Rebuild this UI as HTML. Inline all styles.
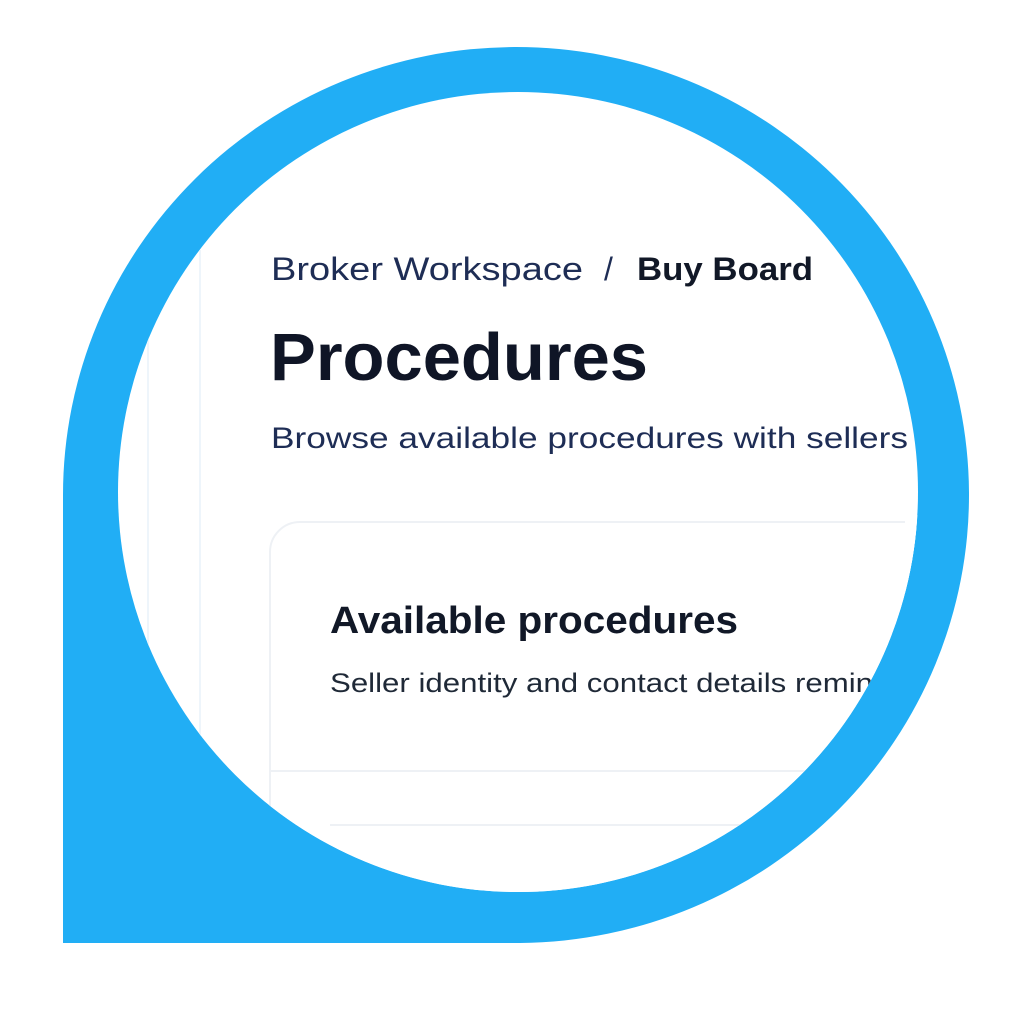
<!DOCTYPE html>
<html><head><meta charset="utf-8"><style>
html,body{margin:0;padding:0;background:#fff;}
svg{display:block;}
</style></head><body>
<svg width="1024" height="1024" viewBox="0 0 1024 1024" xmlns="http://www.w3.org/2000/svg">
<defs><clipPath id="c"><circle cx="518" cy="492" r="400"/></clipPath></defs>
<rect width="1024" height="1024" fill="#fff"/>
<path d="M63,943 L63,495 A453,448 0 1 1 520,943 Z" fill="#21aef5"/>
<circle cx="518" cy="492" r="400" fill="#fff"/>
<g clip-path="url(#c)" font-family="Liberation Sans, sans-serif">
  <line x1="148" y1="250" x2="148" y2="800" stroke="#eef5fb" stroke-width="2"/>
  <line x1="200" y1="250" x2="200" y2="800" stroke="#eef5fb" stroke-width="2"/>
  <text x="271" y="280" font-size="32" fill="#1e2d55" textLength="312" lengthAdjust="spacingAndGlyphs">Broker Workspace</text>
  <text x="604" y="280" font-size="32" fill="#1e2d55">/</text>
  <text x="637" y="280" font-size="32" font-weight="bold" fill="#111827" textLength="176" lengthAdjust="spacingAndGlyphs">Buy Board</text>
  <text x="270" y="380" font-size="67" font-weight="bold" fill="#0f1526" textLength="378" lengthAdjust="spacingAndGlyphs">Procedures</text>
  <text x="271" y="448" font-size="30" fill="#1e2d55" textLength="637" lengthAdjust="spacingAndGlyphs">Browse available procedures with sellers</text>
  <rect x="270" y="522" width="700" height="400" rx="30" fill="#fff" stroke="#eef1f5" stroke-width="2"/>
  <rect x="905" y="515" width="20" height="420" fill="#fff"/>
  <line x1="270" y1="771" x2="905" y2="771" stroke="#eef1f5" stroke-width="2"/>
  <line x1="330" y1="825" x2="905" y2="825" stroke="#eef1f5" stroke-width="2"/>
  <text x="330" y="633" font-size="38" font-weight="bold" fill="#111827" textLength="408" lengthAdjust="spacingAndGlyphs">Available procedures</text>
  <text x="330" y="692" font-size="27" fill="#1f2937" textLength="543" lengthAdjust="spacingAndGlyphs">Seller identity and contact details remin</text>
</g>
</svg>
</body></html>
